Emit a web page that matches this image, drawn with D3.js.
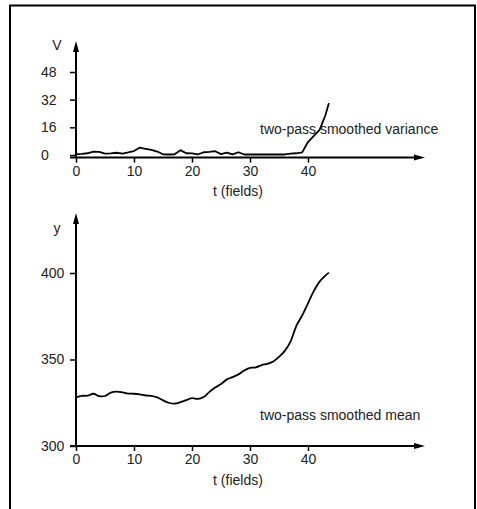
<!DOCTYPE html>
<html>
<head>
<meta charset="utf-8">
<script src="https://cdn.jsdelivr.net/npm/d3@7/dist/d3.min.js"></script>
<style>
  html, body { margin: 0; padding: 0; background: #fff; }
  svg { display: block; }
  text { font-family: "Liberation Sans", Arial, Helvetica, sans-serif; font-size: 14px; fill: #222; }
</style>
</head>
<body>
<script>
// ---- data ----
const tValues = [0,1,2,3,4,5,6,7,8,9,10,11,12,13,14,15,16,17,18,19,20,21,22,23,24,25,26,27,28,29,30,31,32,33,34,35,36,37,38,39,40,41,42,43,43.6];
const varianceValues = [0.5,0.7,1.0,2.0,1.8,0.8,0.9,1.3,0.8,1.5,2.3,4.3,3.6,2.9,2.0,0.4,0.3,0.4,2.8,1.0,0.9,0.3,1.6,1.8,2.2,0.5,1.4,0.4,1.6,0.3,0.3,0.3,0.3,0.3,0.3,0.3,0.3,0.8,1.0,1.5,7.5,11,14.5,23,30];
const meanValues = [328.1,329.0,329.1,330.2,328.8,328.9,330.9,331.4,331.0,330.3,330.2,329.8,329.2,329.0,328.1,326.4,325.0,324.5,325.3,326.5,327.7,327.2,328.3,331.3,333.8,335.8,338.5,339.8,341.4,343.6,345.2,345.4,346.8,347.5,348.8,351.5,355.0,360.5,369.5,375.5,382.5,389.5,395.0,398.5,400.2];
const xTicks = [0,10,20,30,40];
const varianceTicks = [0,16,32,48];
const meanTicks = [300,350,400];
const xLabel = "t (fields)";
const varianceLabel = "V";
const meanLabel = "y";
const varianceNote = "two-pass smoothed variance";
const meanNote = "two-pass smoothed mean";

const W = 477, H = 509;
const svg = d3.select("body").append("svg").attr("width", W).attr("height", H);

// frame
svg.append("rect").attr("x", 10).attr("y", 5.5).attr("width", 465).attr("height", 520)
  .attr("fill", "none").attr("stroke", "#000").attr("stroke-width", 2);

const x = d3.scaleLinear().domain([0, 40]).range([76, 308]);
const xEnd = 425;

function panel(opts) {
  const { y, axisY, topY, ticks, yName, nameY, note, noteY, values, labelY, curve } = opts;
  const g = svg.append("g");
  // x ticks
  const xa = d3.axisBottom(x).tickValues(xTicks).tickSize(5).tickPadding(3).tickFormat(d3.format("d"));
  const gx = g.append("g").attr("transform", `translate(0,${axisY})`).call(xa);
  gx.select(".domain").remove();
  gx.selectAll("line").attr("stroke", "#000").attr("stroke-width", 1.5);
  gx.selectAll("text").style("font-size", "14px").attr("fill", "#222");
  // y ticks
  const ya = d3.axisLeft(y).tickValues(ticks).tickSize(6).tickFormat(d3.format("d"));
  const gy = g.append("g").attr("transform", `translate(${x(0)},0)`).call(ya);
  gy.select(".domain").remove();
  gy.selectAll("line").attr("stroke", "#000").attr("stroke-width", 1.5);
  gy.selectAll("text").attr("x", 41 - x(0)).attr("text-anchor", "start").style("font-size", "14px").attr("fill", "#222");
  // axis lines with arrows
  g.append("line").attr("x1", 70).attr("x2", xEnd - 8).attr("y1", axisY).attr("y2", axisY)
    .attr("stroke", "#000").attr("stroke-width", 2);
  g.append("path").attr("d", `M${xEnd},${axisY}L${xEnd-11},${axisY-3}L${xEnd-11},${axisY+3}Z`).attr("fill", "#000");
  g.append("line").attr("x1", x(0)).attr("x2", x(0)).attr("y1", axisY).attr("y2", topY + 8)
    .attr("stroke", "#000").attr("stroke-width", 2);
  g.append("path").attr("d", `M${x(0)},${topY}L${x(0)-3},${topY+11}L${x(0)+3},${topY+11}Z`).attr("fill", "#000");
  // labels
  g.append("text").attr("x", 57).attr("y", nameY).attr("text-anchor", "middle").text(yName);
  g.append("text").attr("x", 238).attr("y", labelY).attr("text-anchor", "middle").text(xLabel);
  // curve
  const data = tValues.map((t, i) => [t, values[i]]);
  g.append("path").datum(data)
    .attr("d", d3.line().x(d => x(d[0])).y(d => y(d[1])).curve(curve))
    .attr("fill", "none").attr("stroke", "#000").attr("stroke-width", 1.8).attr("stroke-linejoin", "round");
  g.append("text").attr("x", 260).attr("y", noteY).text(note);
}

const yV = d3.scaleLinear().domain([0, 48]).range([155, 72]);
panel({ y: yV, axisY: yV(-1.5), topY: 41, ticks: varianceTicks, yName: varianceLabel, nameY: 50,
        note: varianceNote, noteY: 134, values: varianceValues, labelY: 196, curve: d3.curveLinear });

const yM = d3.scaleLinear().domain([300, 400]).range([446, 273]);
panel({ y: yM, axisY: yM(300), topY: 213, ticks: meanTicks, yName: meanLabel, nameY: 233,
        note: meanNote, noteY: 420, values: meanValues, labelY: 485, curve: d3.curveCatmullRom.alpha(0.5) });
</script>
</body>
</html>
